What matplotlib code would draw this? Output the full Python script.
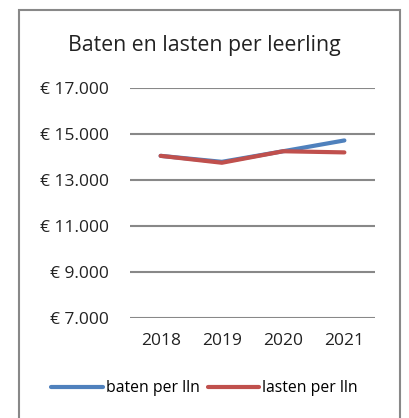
import numpy as np
import matplotlib.pyplot as plt
from matplotlib.patches import Rectangle

# Gegevens
jaren = ['2018', '2019', '2020', '2021']
baten = [14050, 13790, 14250, 14720]
lasten = [14050, 13750, 14250, 14200]
y_ticks = [7000, 9000, 11000, 13000, 15000, 17000]

def euro(v):
    return '€ ' + f'{v:,}'.replace(',', '.')

plt.rcParams['font.family'] = ['Open Sans', 'DejaVu Sans']

fig = plt.figure(figsize=(4.09, 4.18), dpi=100)
ax = fig.add_axes([130 / 409, 1 - 318 / 418, 245 / 409, 230 / 418])

x = np.arange(len(jaren))
ax.plot(x, baten, color='#4F81BD', lw=3, solid_capstyle='round', label='baten per lln')
ax.plot(x, lasten, color='#C0504D', lw=3, solid_capstyle='round', label='lasten per lln')

ax.set_xlim(-0.5, len(jaren) - 0.5)
ax.set_ylim(7000, 17000)
ax.set_yticks(y_ticks)
ax.set_yticklabels([euro(v) for v in y_ticks], fontsize=12.5, color='#222222')
ax.set_xticks(x)
ax.set_xticklabels(jaren, fontsize=12.5, color='#222222')
ax.tick_params(length=0)
ax.tick_params(axis='y', pad=15)
ax.tick_params(axis='x', pad=11)
ax.grid(axis='y', color='#888888', lw=1.5)
ax.set_axisbelow(True)
for s in ax.spines.values():
    s.set_visible(False)

fig.text(0.5, 1 - 45 / 418, 'Baten en lasten per leerling', ha='center', va='center',
         fontsize=15.3, color='#222222')

fig.legend(loc='center', bbox_to_anchor=(0.5, 1 - 388 / 418), ncol=2, frameon=False,
           fontsize=11.3, handlelength=3.3, handletextpad=0.2, columnspacing=0.5)

# rand van het diagram
fig.patches.append(Rectangle((19 / 409, -0.05), 381 / 409, 1.05 - 10 / 418,
                             transform=fig.transFigure, fill=False,
                             edgecolor='#888888', lw=1.5))

fig.savefig('out.png', dpi=100)
